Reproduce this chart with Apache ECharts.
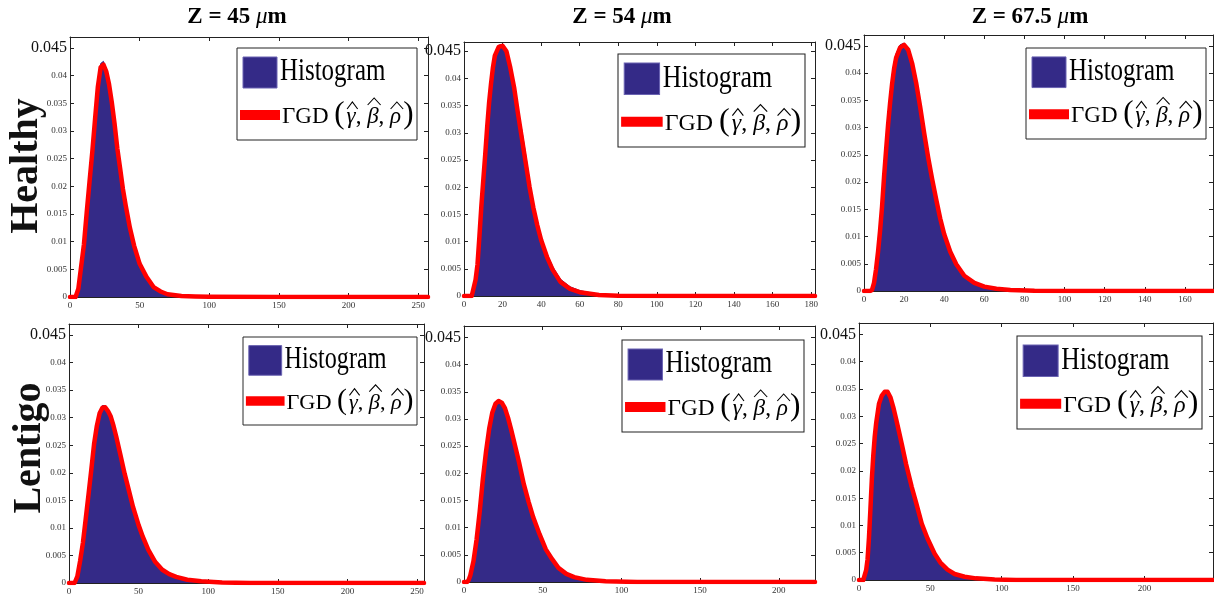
<!DOCTYPE html>
<html><head><meta charset="utf-8">
<script src="https://cdn.jsdelivr.net/npm/echarts@6/dist/echarts.min.js"></script>
<style>html,body{margin:0;padding:0;background:#fff}#c{width:1214px;height:597px}</style>
</head><body><div id="c"></div>
<script>
// ---------- DATA ----------
const colTitles = ['Z = 45 ', 'Z = 54 ', 'Z = 67.5 '];
const unitLabel = 'μ';
const rowLabels = ['Healthy', 'Lentigo'];
const legendNames = ['Histogram', 'ΓGD'];

// Healthy, Z = 45
const h45X    = [0,4,5,6,8,10,12,14,16,18,20,22,24,26,28,30,32,34,36,38,40,43,46,50,55,60,65,70,80,90,100,150,200,257];
const h45Fit  = [0,0,0.0003,0.0015,0.0055,0.0095,0.0153,0.0208,0.0262,0.0322,0.038,0.0415,0.042,0.0408,0.0385,0.0352,0.0313,0.0268,0.0232,0.0195,0.0165,0.0125,0.0093,0.006,0.0036,0.0018,0.001,0.0005,0.0002,0.0001,0.00004,0,0,0];
const h45Hist = [0.0002,0.0002,0.0004,0.0016,0.0056,0.0097,0.0155,0.021,0.0265,0.0325,0.0384,0.0422,0.0426,0.0412,0.0388,0.0354,0.0315,0.027,0.0234,0.0197,0.0167,0.0128,0.0096,0.0063,0.0038,0.002,0.0011,0.0006,0.0002,0.0001,0.00005,0,0,0];

// Healthy, Z = 54
const h54X    = [0,4,5,6,7,8,9,10,11,12,13,14,15,16,18,20,22,24,26,28,30,32,34,36,38,40,43,46,50,55,60,70,80,100,140,182];
const h54Fit  = [0,0,0.0002,0.003,0.0058,0.011,0.0165,0.0213,0.026,0.031,0.0355,0.039,0.042,0.0442,0.0458,0.046,0.045,0.042,0.0383,0.0335,0.029,0.0245,0.02,0.0162,0.013,0.0103,0.0072,0.0048,0.0026,0.0013,0.0007,0.0002,0.00005,0,0,0];
const h54Hist = [0.0002,0.0002,0.0004,0.0032,0.006,0.0112,0.0167,0.0215,0.0262,0.0312,0.0357,0.0392,0.0423,0.0445,0.0461,0.0463,0.0452,0.0423,0.0386,0.034,0.0305,0.026,0.0212,0.0168,0.0135,0.0108,0.0078,0.0054,0.0031,0.0017,0.001,0.0003,0.0001,0,0,0];

// Healthy, Z = 67.5
const h675X    = [0,3,4,5,6,7,8,9,10,11,12,13,14,15,16,18,20,22,24,26,28,30,32,34,36,38,40,43,46,50,55,60,66,73,85,100,174];
const h675Fit  = [0,0,0.0002,0.0015,0.004,0.0072,0.011,0.0155,0.021,0.0258,0.0305,0.0345,0.038,0.0408,0.0428,0.0447,0.0452,0.0443,0.0418,0.0382,0.0338,0.029,0.0245,0.0205,0.0168,0.0133,0.0104,0.0072,0.0049,0.0028,0.0015,0.0008,0.0004,0.0002,0.00005,0,0];
const h675Hist = [0.0002,0.0002,0.0004,0.0018,0.0045,0.008,0.0122,0.017,0.0225,0.0272,0.032,0.0358,0.0395,0.042,0.0436,0.0452,0.0455,0.0445,0.042,0.0384,0.034,0.0292,0.0247,0.0207,0.017,0.0135,0.0106,0.0074,0.005,0.0029,0.0016,0.0009,0.0004,0.0002,0.0001,0,0];

// Lentigo, Z = 45
const l45X    = [0,4,5,6,8,10,12,14,16,18,20,22,24,26,28,30,32,34,37,40,43,46,50,53,57,62,67,72,77,85,95,110,130,200,255];
const l45Fit  = [0,0,0.0003,0.0012,0.004,0.0073,0.0116,0.016,0.0205,0.0252,0.0285,0.0308,0.0318,0.0319,0.0312,0.0302,0.0285,0.0265,0.0232,0.0198,0.0168,0.0138,0.0105,0.0084,0.006,0.0038,0.0024,0.0016,0.0011,0.0006,0.0003,0.0001,0,0,0];
const l45Hist = [0.0002,0.0002,0.0004,0.0013,0.0042,0.0075,0.0118,0.0162,0.0207,0.0254,0.0288,0.0311,0.0322,0.0322,0.0314,0.0304,0.0287,0.0267,0.0234,0.02,0.017,0.014,0.0107,0.0086,0.0062,0.004,0.0026,0.0017,0.0012,0.0007,0.0003,0.0001,0,0,0];

// Lentigo, Z = 54
const l54X    = [0,2,3,4,6,8,10,12,14,16,18,20,22,24,26,28,30,32,35,38,41,44,48,52,56,60,65,70,78,90,110,150,223];
const l54Fit  = [0,0,0.0004,0.0012,0.0038,0.0078,0.013,0.019,0.024,0.0282,0.0312,0.0328,0.0333,0.033,0.032,0.0302,0.028,0.0256,0.022,0.018,0.0148,0.0119,0.0088,0.006,0.0042,0.0026,0.0015,0.0009,0.0004,0.00015,0,0,0];
const l54Hist = [0.0002,0.0002,0.0005,0.0013,0.004,0.008,0.0132,0.0192,0.0242,0.0284,0.0315,0.0331,0.0335,0.0332,0.0322,0.0304,0.0282,0.0258,0.0222,0.0182,0.015,0.0121,0.009,0.0062,0.0044,0.0028,0.0016,0.001,0.0005,0.0002,0.0001,0,0];

// Lentigo, Z = 67.5
const l675X    = [0,3,4,5,6,7,8,9,10,11,12,14,16,18,19,20,22,24,26,28,30,33,37,40,44,48,53,57,62,67,74,82,95,110,180,248];
const l675Fit  = [0,0,0.0003,0.0018,0.0038,0.0078,0.013,0.0185,0.0228,0.0262,0.0287,0.0323,0.0338,0.0345,0.0346,0.0345,0.0335,0.0317,0.0295,0.0272,0.0249,0.0212,0.017,0.0142,0.0103,0.0076,0.0048,0.0032,0.0019,0.0011,0.0006,0.0003,0.0001,0,0,0];
const l675Hist = [0.0002,0.0002,0.0004,0.002,0.0045,0.009,0.0145,0.0205,0.0245,0.0275,0.0295,0.0326,0.034,0.0347,0.0348,0.0347,0.0337,0.0319,0.0297,0.0274,0.0251,0.0214,0.0172,0.0144,0.0105,0.0078,0.005,0.0034,0.002,0.0012,0.0007,0.0003,0.0001,0,0,0];

// axis ranges
const xMaxes = [257, 182, 174, 255, 223, 248];
const xIntervals = [50, 20, 20, 50, 50, 50];
const yMaxes = [0.047, 0.0467, 0.047, 0.047, 0.0471, 0.0471];
const yInterval = 0.005;

// ---------- LAYOUT / STYLE ----------
const NAVY = '#342A87', RED = '#FF0000', AX = '#222';
const FONT = '"Liberation Serif", "Times New Roman", serif';
const panelData = [
  [h45X, h45Hist, h45Fit], [h54X, h54Hist, h54Fit], [h675X, h675Hist, h675Fit],
  [l45X, l45Hist, l45Fit], [l54X, l54Hist, l54Fit], [l675X, l675Hist, l675Fit]
];
const grids = [
  {left: 70, top: 37, width: 358, height: 260},
  {left: 464, top: 42, width: 351, height: 254},
  {left: 864, top: 35, width: 349, height: 256},
  {left: 69, top: 324, width: 355, height: 259},
  {left: 464, top: 326, width: 351, height: 256},
  {left: 859, top: 323, width: 354, height: 257}
];
const legendBoxes = [
  {left: 237, top: 48, w: 180, h: 92}, {left: 618, top: 54, w: 187, h: 93}, {left: 1026, top: 48, w: 180, h: 91},
  {left: 243, top: 337, w: 174, h: 88}, {left: 622, top: 340, w: 182, h: 92}, {left: 1017, top: 336, w: 185, h: 93}
];

const zip = (xs, ys) => xs.map((x, i) => [x, ys[i]]);

const xAxes = [], yAxes = [], series = [];
grids.forEach((g, i) => {
  const axLine = {show: true, onZero: false, lineStyle: {color: AX, width: 1}};
  const axTick = {show: true, inside: true, length: 4, lineStyle: {color: AX, width: 1}};
  xAxes.push({type: 'value', gridIndex: i, position: 'bottom', min: 0, max: xMaxes[i], interval: xIntervals[i],
    axisLine: axLine, axisTick: axTick, splitLine: {show: false},
    axisLabel: {show: true, fontSize: 9, color: '#333', fontFamily: FONT, margin: 4, showMaxLabel: false, hideOverlap: false}});
  xAxes.push({type: 'value', gridIndex: i, position: 'top', min: 0, max: xMaxes[i], interval: xIntervals[i],
    axisLine: axLine, axisTick: axTick, splitLine: {show: false}, axisLabel: {show: false}});
  yAxes.push({type: 'value', gridIndex: i, position: 'left', min: 0, max: yMaxes[i], interval: yInterval,
    axisLine: axLine, axisTick: axTick, splitLine: {show: false},
    axisLabel: {show: true, fontSize: 9, color: '#333', fontFamily: FONT, margin: 3, showMaxLabel: false, hideOverlap: false,
      formatter: v => {
        const r = Math.round(v * 1000) / 1000;
        if (Math.abs(r - 0.045) < 1e-9) return '{big|0.045}';
        return String(r);
      },
      rich: {big: {fontSize: 16, color: '#111', fontFamily: FONT}}}});
  yAxes.push({type: 'value', gridIndex: i, position: 'right', min: 0, max: yMaxes[i], interval: yInterval,
    axisLine: axLine, axisTick: axTick, splitLine: {show: false}, axisLabel: {show: false}});

  const [xs, hist, fit] = panelData[i];
  series.push({type: 'line', name: legendNames[0], xAxisIndex: 2 * i, yAxisIndex: 2 * i,
    data: zip(xs, hist), smooth: false, symbol: 'none', color: NAVY,
    lineStyle: {color: NAVY, width: 1}, areaStyle: {color: NAVY, opacity: 1}, z: 2, silent: true});
  series.push({type: 'line', name: legendNames[1], xAxisIndex: 2 * i, yAxisIndex: 2 * i,
    data: zip(xs, fit), smooth: false, symbol: 'none', color: RED,
    lineStyle: {color: RED, width: 4.5, join: 'round', cap: 'round'}, z: 3, silent: true});
});

// ---------- legend boxes (drawn as graphic groups) ----------
const mctx = document.createElement('canvas').getContext('2d');
function tw(text, font) { mctx.font = font; return mctx.measureText(text).width; }
const F2 = '23px ' + FONT, F2I = 'italic 23px ' + FONT, FP = '31px ' + FONT;

function legendGroup(b) {
  const ch = [];
  ch.push({type: 'rect', shape: {x: 0, y: 0, width: 180, height: 92}, style: {fill: '#fff', stroke: '#222', lineWidth: 1}});
  ch.push({type: 'rect', shape: {x: 6, y: 9, width: 34, height: 31}, style: {fill: NAVY, stroke: '#6a63b2', lineWidth: 1}});
  ch.push({type: 'text', x: 43, y: 24, scaleX: 0.78, style: {text: legendNames[0], font: '32px ' + FONT, fill: '#000', verticalAlign: 'middle'}});
  ch.push({type: 'rect', shape: {x: 3, y: 62, width: 40, height: 10}, style: {fill: RED}});
  // second row: ΓGD ( γ^, β^, ρ^ )
  const cy = 69;
  let x = 45;
  const pieces = [
    {t: 'ΓGD ', f: F2}, {t: '(', f: FP, big: true}, {gap: 2},
    {t: 'γ', f: F2I, hat: 'low'}, {t: ', ', f: F2},
    {t: 'β', f: F2I, hat: 'high'}, {t: ', ', f: F2},
    {t: 'ρ', f: F2I, hat: 'low'}, {gap: 2}, {t: ')', f: FP, big: true}
  ];
  pieces.forEach(p => {
    if (p.gap) { x += p.gap; return; }
    const w = tw(p.t, p.f);
    ch.push({type: 'text', x: x, y: p.big ? cy - 2 : cy, style: {text: p.t, font: p.f, fill: '#000', verticalAlign: 'middle'}});
    if (p.hat) {
      const yb = p.hat === 'high' ? 57 : 61, yt = yb - 7;
      const x0 = x + 0.5, x1 = x + w + 2;
      ch.push({type: 'polyline', shape: {points: [[x0, yb], [(x0 + x1) / 2, yt], [x1, yb]]},
        style: {stroke: '#000', lineWidth: 1.1, fill: null}});
    }
    x += w;
  });
  return {type: 'group', x: b.left, y: b.top, scaleX: b.w / 180, scaleY: b.h / 92, z: 100, silent: true, children: ch};
}

const graphics = legendBoxes.map(legendGroup);

const titleX = [237, 622, 1030];
titleX.forEach((x, i) => {
  graphics.push({type: 'text', x: x, y: 17, silent: true, style: {
    text: colTitles[i] + '{i|' + unitLabel + '}m',
    font: 'bold 23px ' + FONT, fill: '#000', align: 'center', verticalAlign: 'middle',
    rich: {i: {fontStyle: 'italic', fontWeight: 'normal', fontSize: 23, fontFamily: FONT, fill: '#000'}}
  }});
});
const rowPos = [{x: 27, y: 166}, {x: 30, y: 448}];
rowLabels.forEach((t, i) => {
  graphics.push({type: 'text', x: rowPos[i].x, y: rowPos[i].y, rotation: Math.PI / 2, silent: true, style: {
    text: t, font: 'bold 40px ' + FONT, fill: '#111', align: 'center', verticalAlign: 'middle'
  }});
});

const chart = echarts.init(document.getElementById('c'), null, {renderer: 'canvas'});
chart.setOption({
  backgroundColor: '#fff',
  animation: false,
  grid: grids.map(g => Object.assign({containLabel: false, outerBoundsMode: 'none'}, g)),
  xAxis: xAxes,
  yAxis: yAxes,
  series: series,
  graphic: graphics
});
</script>
</body></html>
